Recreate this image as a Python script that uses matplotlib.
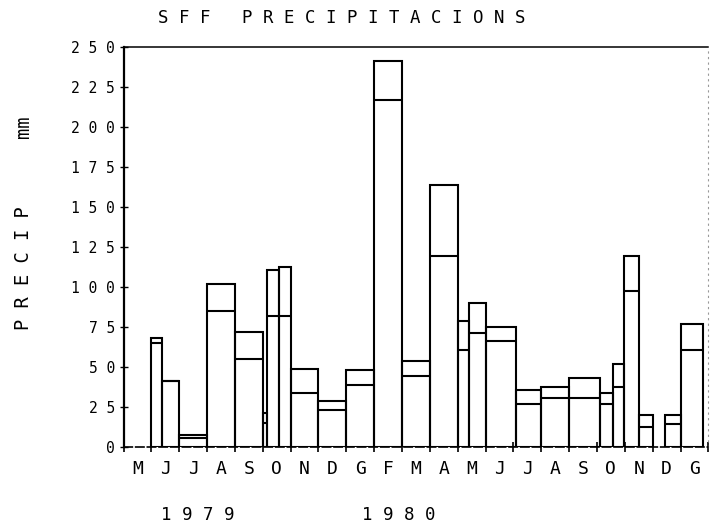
import matplotlib
matplotlib.use('Agg')
import matplotlib.pyplot as plt

# mesos (de maig 1979 a gener 1981)
months = ['M', 'J', 'J', 'A', 'S', 'O', 'N', 'D', 'G', 'F', 'M',
          'A', 'M', 'J', 'J', 'A', 'S', 'O', 'N', 'D', 'G']
years = ['1979', '1980']
year_pos = [2.65, 9.9]

# periodes de mesura, en mesos des de l'1 de maig de 1979
start = [1.0, 1.38, 2.0, 3.0, 4.0, 5.0, 5.16, 5.58, 6.0, 7.0, 8.0, 9.0, 10.0,
         11.0, 12.0, 12.4, 13.0, 14.1, 15.0, 16.0, 17.1, 17.58, 17.97, 18.52,
         19.45, 20.0]
end = [1.38, 2.0, 3.0, 4.0, 5.0, 5.16, 5.58, 6.0, 7.0, 8.0, 9.0, 10.0, 11.0,
       12.0, 12.4, 13.0, 14.1, 15.0, 16.0, 17.1, 17.58, 17.97, 18.52, 19.02,
       20.0, 20.8]
# precipitacio total i part inferior (mm)
total = [68, 41, 7.5, 102, 72, 21, 110.5, 112.5, 48.5, 28.5, 48, 241.5, 53.5,
         163.5, 79, 90, 75, 35.5, 37.5, 43, 33.5, 52, 119.5, 20, 20, 77]
inner = [65, 41, 5.5, 85, 55, 15, 82, 82, 34, 23, 39, 217, 44.5,
         119.5, 60.5, 71.5, 66, 27, 30.5, 30.5, 27, 37.5, 97.5, 12.5, 14.5, 60.5]

yticks = list(range(0, 251, 25))

mono = 'DejaVu Sans Mono'

fig = plt.figure(figsize=(7.12, 5.32), dpi=100)
ax = fig.add_axes([123.5 / 712, 85 / 532, (708.4 - 123.5) / 712, 400 / 532])

widths = [e - s for s, e in zip(start, end)]
ax.bar(start, total, width=widths, align='edge', fill=False,
       edgecolor='black', linewidth=1.5)
ax.hlines(inner, start, end, colors='black', linewidth=1.5)

ax.set_xlim(0, 21)
ax.set_ylim(0, 250)

# eix x: marques als limits de mes, lletres al centre
ax.set_xticks(range(22))
ax.set_xticklabels([''] * 22)
ax.set_xticks([i + 0.5 for i in range(len(months))], minor=True)
ax.set_xticklabels(months, minor=True, fontfamily=mono, fontsize=13)
ax.tick_params(axis='x', which='major', direction='inout', length=7, width=1.2)
ax.tick_params(axis='x', which='minor', length=0, pad=9)

ax.set_yticks(yticks)
ax.set_yticklabels([' '.join(str(v)) for v in yticks], fontfamily=mono, fontsize=10.5)
ax.tick_params(axis='y', direction='inout', length=6, width=1.0, pad=3)

ax.spines['left'].set_linewidth(1.6)
ax.spines['bottom'].set_linestyle((0, (5, 2)))
ax.spines['bottom'].set_linewidth(1.2)
ax.spines['top'].set_linestyle((0, (8, 1)))
ax.spines['top'].set_linewidth(1.1)
ax.spines['right'].set_linestyle((0, (1, 4)))
ax.spines['right'].set_color('#999999')
ax.spines['right'].set_linewidth(0.8)

for lab, pos in zip(years, year_pos):
    ax.text(pos, -0.17, ' '.join(lab), transform=ax.get_xaxis_transform(),
            ha='center', va='center', fontfamily=mono, fontsize=12.5)

fig.text(342 / 712, 1 - 18 / 532, 'S F F   P R E C I P I T A C I O N S',
         ha='center', va='center', fontfamily=mono, fontsize=12.5)
fig.text(24 / 712, 1 - 268 / 532, 'P R E C I P', rotation=90,
         ha='center', va='center', fontfamily=mono, fontsize=13.5)
fig.text(24 / 712, 1 - 127 / 532, 'mm', rotation=90,
         ha='center', va='center', fontfamily=mono, fontsize=13.5)

fig.savefig('out.png', dpi=100)
